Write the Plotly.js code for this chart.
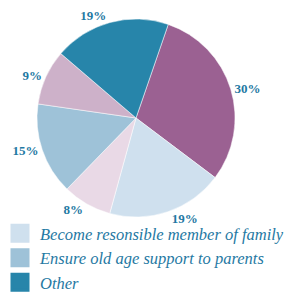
<!DOCTYPE html>
<html>
<head>
<meta charset="utf-8">
<script src="https://cdn.plot.ly/plotly-3.0.1.min.js"></script>
<style>html,body{margin:0;padding:0;background:#fff;}#chart{width:296px;height:292px;}</style>
</head>
<body>
<div id="chart"></div>
<script>
// Slices, clockwise starting from the top-right purple slice
const sliceLabels = ["Purple share", "Become resonsible member of family", "Light pink share", "Ensure old age support to parents", "Mauve share", "Other"];
const sliceValues = [30, 19, 8, 15, 9, 19];
const sliceColors = ["#9b6192", "#cfe0ee", "#e9d9e6", "#9ec2d8", "#cdb1c9", "#2785aa"];

// Legend entries visible in the picture
const legendLabels = ["Become resonsible member of family", "Ensure old age support to parents", "Other"];
const legendColors = ["#cfe0ee", "#9ec2d8", "#2785aa"];

const labelFont = {family: "Liberation Serif", size: 13, color: "#1f79a3", weight: 700};

const traces = [{
  type: "pie",
  labels: sliceLabels,
  values: sliceValues,
  sort: false,
  direction: "clockwise",
  rotation: 19,
  marker: {colors: sliceColors, line: {color: "#ffffff", width: 0.5}},
  textposition: "outside",
  texttemplate: "%{value}%",
  textfont: labelFont,
  outsidetextfont: labelFont,
  showlegend: false,
  hoverinfo: "label+percent",
  domain: {x: [0.125, 0.794], y: [0.2568, 0.9349]}
}];

legendLabels.forEach((name, i) => {
  traces.push({
    type: "scatter",
    mode: "markers",
    x: [null], y: [null],
    name: name,
    marker: {symbol: "square", size: 16, color: legendColors[i], line: {color: legendColors[i], width: 3}},
    showlegend: true
  });
});

const layout = {
  width: 296, height: 292,
  margin: {l: 0, r: 0, t: 0, b: 0, autoexpand: false},
  font: {family: "Liberation Serif", color: "#1f79a3"},
  paper_bgcolor: "#ffffff",
  plot_bgcolor: "#ffffff",
  xaxis: {visible: false},
  yaxis: {visible: false},
  showlegend: true,
  legend: {
    xref: "container", yref: "container",
    x: 0, y: (292 - 216) / 292, xanchor: "left", yanchor: "top",
    bgcolor: "rgba(0,0,0,0)",
    font: {family: "Liberation Serif", size: 16.5, color: "#1f79a3", style: "italic"},
    itemclick: false, itemdoubleclick: false
  }
};

Plotly.newPlot("chart", traces, layout, {displayModeBar: false, staticPlot: true});
</script>
</body>
</html>
